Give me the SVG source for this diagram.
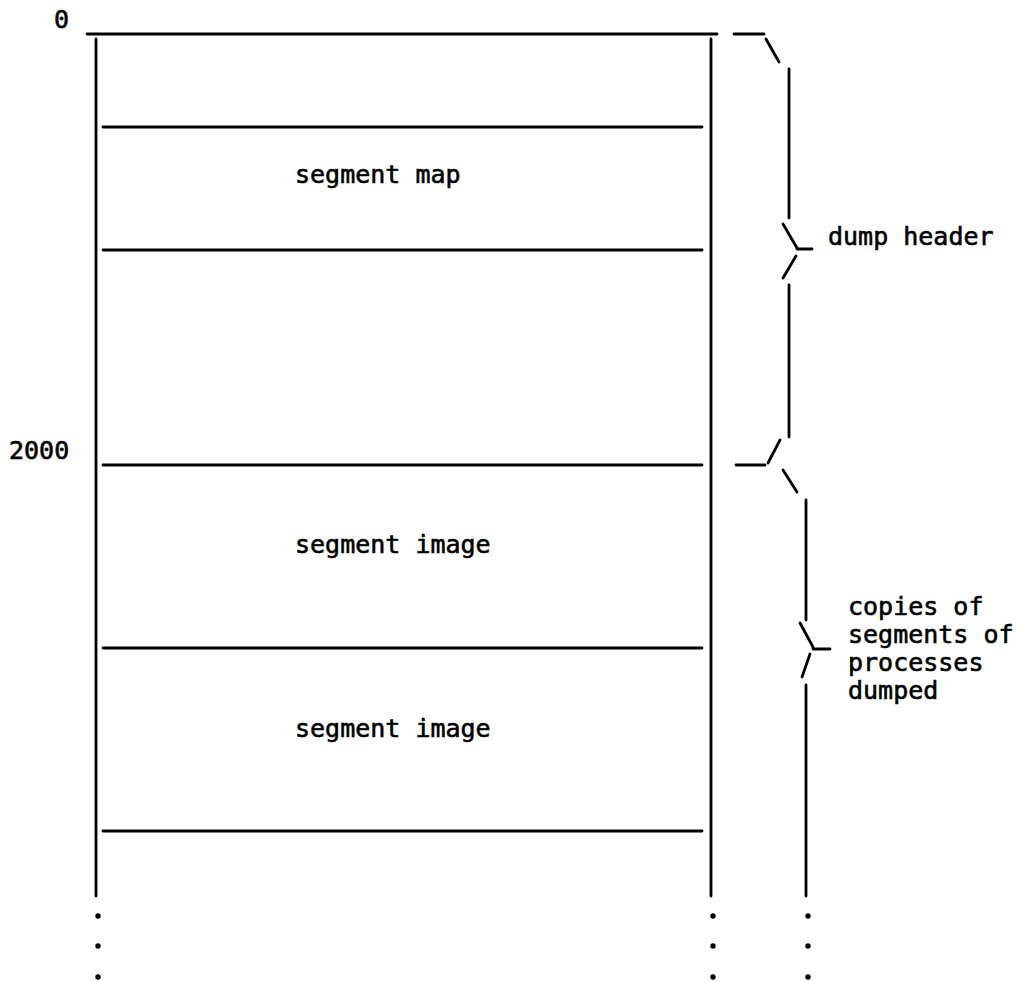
<svg xmlns="http://www.w3.org/2000/svg" width="1025" height="982" viewBox="0 0 1025 982">
  <style>
    .ln { stroke: #000; stroke-width: 2.8; fill: none; stroke-linecap: round; }
    .tx { font-family: "DejaVu Sans Mono", "Liberation Mono", monospace; font-size: 25px; fill: #000; stroke: #000; stroke-width: 0.6; }
    .dot { fill: #000; }
  </style>
  <rect width="1025" height="982" fill="#fff"/>

  <!-- address labels -->
  <g id="addr-0"><text class="tx" x="54" y="28">0</text></g>
  <g id="addr-2000"><text class="tx" x="9" y="459">2000</text></g>

  <!-- dump file frame -->
  <g id="frame">
    <line class="ln" x1="87" y1="34" x2="717" y2="34"/>
    <line class="ln" x1="96" y1="39" x2="96" y2="896"/>
    <line class="ln" x1="711" y1="39" x2="711" y2="896"/>
    <circle class="dot" cx="98" cy="916" r="2.7"/>
    <circle class="dot" cx="98" cy="946" r="2.7"/>
    <circle class="dot" cx="98" cy="977" r="2.7"/>
    <circle class="dot" cx="713" cy="916" r="2.7"/>
    <circle class="dot" cx="713" cy="946" r="2.7"/>
    <circle class="dot" cx="713" cy="977" r="2.7"/>
  </g>

  <!-- records inside the file -->
  <g id="segment-map">
    <line class="ln" x1="103" y1="127" x2="702" y2="127"/>
    <text class="tx" x="295" y="183">segment map</text>
    <line class="ln" x1="103" y1="250" x2="702" y2="250"/>
  </g>
  <g id="segment-image-1">
    <line class="ln" x1="103" y1="465" x2="702" y2="465"/>
    <text class="tx" x="295" y="553">segment image</text>
    <line class="ln" x1="103" y1="648" x2="702" y2="648"/>
  </g>
  <g id="segment-image-2">
    <text class="tx" x="295" y="737">segment image</text>
    <line class="ln" x1="103" y1="831" x2="702" y2="831"/>
  </g>

  <!-- braces -->
  <g id="connectors">
    <g id="brace-header">
      <line class="ln" x1="734" y1="34" x2="764" y2="34"/>
      <line class="ln" x1="766" y1="39" x2="779" y2="62"/>
      <line class="ln" x1="789" y1="69" x2="789" y2="218"/>
      <line class="ln" x1="783" y1="224" x2="797" y2="248"/>
      <line class="ln" x1="797" y1="249" x2="812" y2="249"/>
      <line class="ln" x1="796" y1="256" x2="783" y2="278"/>
      <line class="ln" x1="789" y1="285" x2="789" y2="437"/>
      <line class="ln" x1="780" y1="440" x2="768" y2="463"/>
      <line class="ln" x1="736" y1="465" x2="765" y2="465"/>
    </g>
    <g id="brace-copies">
      <line class="ln" x1="783" y1="470" x2="797" y2="492"/>
      <line class="ln" x1="806" y1="500" x2="806" y2="620"/>
      <line class="ln" x1="800" y1="623" x2="813" y2="647"/>
      <line class="ln" x1="813" y1="649" x2="830" y2="649"/>
      <line class="ln" x1="810" y1="654" x2="802" y2="677"/>
      <line class="ln" x1="806" y1="685" x2="806" y2="896"/>
      <circle class="dot" cx="808" cy="916" r="2.7"/>
      <circle class="dot" cx="808" cy="946" r="2.7"/>
      <circle class="dot" cx="808" cy="977" r="2.7"/>
    </g>
  </g>

  <!-- brace labels -->
  <g id="label-header"><text class="tx" x="828" y="245">dump header</text></g>
  <g id="label-copies">
    <text class="tx" x="848" y="615">copies of</text>
    <text class="tx" x="848" y="643">segments of</text>
    <text class="tx" x="848" y="671">processes</text>
    <text class="tx" x="848" y="699">dumped</text>
  </g>
</svg>
